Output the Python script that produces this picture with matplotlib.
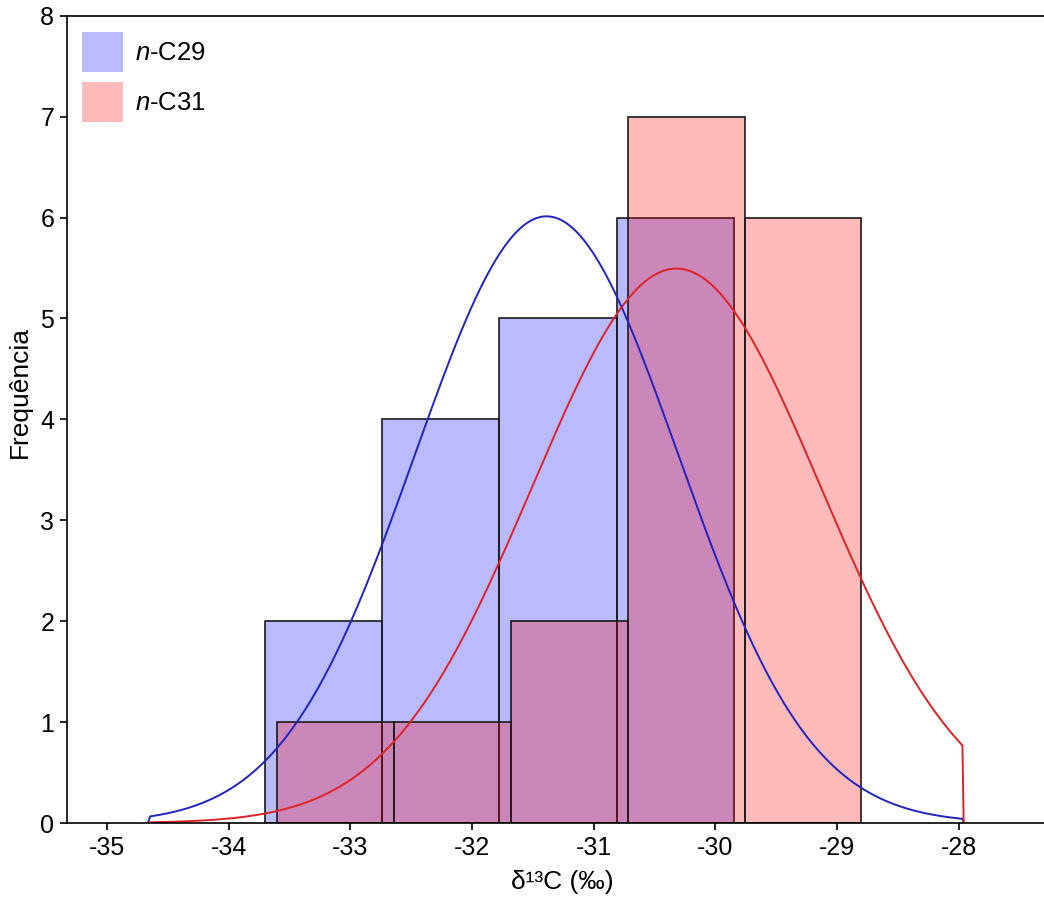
import numpy as np
import matplotlib
matplotlib.use("Agg")
import matplotlib.pyplot as plt
from matplotlib.patches import Rectangle

plt.rcParams['font.family'] = ['Liberation Sans', 'DejaVu Sans']
plt.rcParams['mathtext.fontset'] = 'custom'
plt.rcParams['mathtext.rm'] = 'Liberation Sans'
plt.rcParams['mathtext.it'] = 'Liberation Sans:italic'

# ---- data ----
c29_edges = [-33.70, -32.74, -31.78, -30.81, -29.85]
c29_counts = [2, 4, 5, 6]
c31_edges = [-33.60, -32.64, -31.68, -30.72, -29.76, -28.80]
c31_counts = [1, 1, 2, 7, 6]
# normal-fit parameters (mean, sd) and curve range
c29_fit = (-31.387, 1.083)
c31_fit = (-30.32, 1.185)
curve_range = (-34.644, -27.97)
series_labels = ['$n$-C29', '$n$-C31']
xticks = [-35, -34, -33, -32, -31, -30, -29, -28]
yticks = [0, 1, 2, 3, 4, 5, 6, 7, 8]

blue_fill = (0, 0, 1, 0.27)
red_fill = (1, 0, 0, 0.27)
blue_line = '#2222c0'
red_line = '#dd2228'

W, H = 1044, 897
fig = plt.figure(figsize=(W / 100, H / 100), dpi=100)
ax = fig.add_axes([66.7 / W, 1 - 823 / H, 1 - 66.7 / W, (823 - 15.7) / H])

def draw_hist(edges, counts, fc):
    left = np.array(edges[:-1])
    width = np.diff(edges)
    ax.bar(left, counts, width=width, align='edge', color=fc,
           edgecolor='#1a1a1a', linewidth=1.2, zorder=2)

draw_hist(c29_edges, c29_counts, blue_fill)
draw_hist(c31_edges, c31_counts, red_fill)

def draw_fit(edges, counts, fit, color):
    mu, sd = fit
    n = sum(counts)
    bw = edges[1] - edges[0]
    x = np.linspace(curve_range[0], curve_range[1], 400)
    y = n * bw * np.exp(-0.5 * ((x - mu) / sd) ** 2) / (sd * np.sqrt(2 * np.pi))
    x = np.concatenate([[curve_range[0] - 0.02], x, [curve_range[1] + 0.01]])
    y = np.concatenate([[0], y, [0]])
    ax.plot(x, y, color=color, linewidth=1.4, zorder=4)

draw_fit(c29_edges, c29_counts, c29_fit, blue_line)
draw_fit(c31_edges, c31_counts, c31_fit, red_line)

ax.set_xlim(-35.33, -27.30)
ax.set_ylim(0, 8)
ax.set_xticks(xticks)
ax.set_yticks(yticks)
ax.spines['right'].set_visible(False)
for s in ['left', 'bottom', 'top']:
    ax.spines[s].set_linewidth(1.2)
    ax.spines[s].set_zorder(5)
ax.tick_params(axis='both', direction='out', length=5, width=1.2, labelsize=18, pad=4)
ax.set_xticklabels([str(t) for t in xticks])

ax.set_xlabel('δ¹³C (‰)', fontsize=19)
ax.xaxis.set_label_coords((562 - 66.7) / (W - 66.7), -(882 - 823) / (823 - 15.7), transform=ax.transAxes)
ax.set_ylabel('Frequência', fontsize=19)
ax.yaxis.set_label_coords(-(66.7 - 20) / (W - 66.7), (823 - 392) / (823 - 15.7), transform=ax.transAxes)
ax.xaxis.label.set_va('center')
ax.yaxis.label.set_va('center')

# legend drawn as squares + text (pixel layout from reference)
for i, (fc, lab) in enumerate(zip([blue_fill, red_fill], series_labels)):
    top = 32 + i * 50
    fig.patches.append(Rectangle((82 / W, 1 - (top + 40) / H), 41 / W, 40 / H,
                                 transform=fig.transFigure, facecolor=fc,
                                 edgecolor='none', zorder=6))
    fig.text(135 / W, 1 - (top + 21) / H, lab, fontsize=18.5, va='center', ha='left')

fig.savefig('out.png', dpi=100)
